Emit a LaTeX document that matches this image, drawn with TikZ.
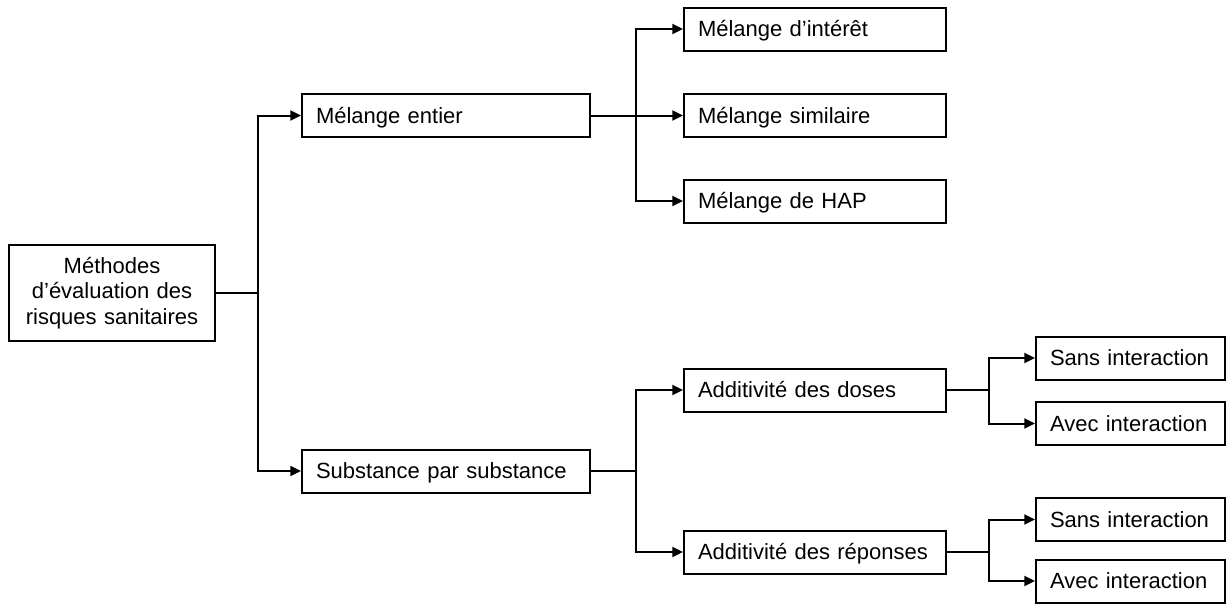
\documentclass[tikz,border=0pt]{standalone}
\usepackage{fontspec}
\setmainfont{Liberation Sans}
\usetikzlibrary{arrows.meta}
\begin{document}
\begin{tikzpicture}[x=0.75pt,y=-0.75pt,
  every node/.style={font=\fontsize{16.5pt}{19pt}\selectfont},
  box/.style={draw,line width=1.5pt,rectangle,inner xsep=10.5pt,inner ysep=0pt,
    minimum height=32.25pt,align=left,text width=#1,text height=12.5pt,text depth=0.7pt},
  rootbox/.style={draw,line width=1.5pt,rectangle,inner xsep=3pt,inner ysep=0pt,
    minimum height=72pt,align=center,text width=148.5pt},
  link/.style={line width=1.5pt},
  arr/.style={line width=1.5pt,-{Triangle[length=8pt,width=7.5pt]}}]
\useasboundingbox (0,0) rectangle (1227,603);
% nodes
\node[rootbox] (root) at (112,293) {Méthodes\\d’évaluation des\\risques sanitaires};
\node[box=195pt] (me) at (446,115.5) {Mélange entier};
\node[box=195pt] (ss) at (446,471) {Substance par substance};
\node[box=175.5pt] (mi) at (815,29) {Mélange d’intérêt};
\node[box=175.5pt] (ms) at (815,115.5) {Mélange similaire};
\node[box=175.5pt] (mh) at (815,201) {Mélange de HAP};
\node[box=175.5pt] (ad) at (815,390) {Additivité des doses};
\node[box=175.5pt] (ar) at (815,552) {Additivité des réponses};
\node[box=120.75pt] (s1) at (1130.5,358) {Sans interaction};
\node[box=120.75pt] (a1) at (1130.5,423.5) {Avec interaction};
\node[box=120.75pt] (s2) at (1130.5,519.5) {Sans interaction};
\node[box=120.75pt] (a2) at (1130.5,581) {Avec interaction};
% junctions
\coordinate (b1) at (258,293);
\coordinate (b2) at (636,115.5);
\coordinate (b3) at (636,471);
\coordinate (b4) at (989,390);
\coordinate (b5) at (989,552);
% connectors
\draw[link] (root) -- (b1);
\draw[arr] (b1) |- (me);
\draw[arr] (b1) |- (ss);
\draw[link] (me) -- (b2);
\draw[arr] (b2) |- (mi);
\draw[arr] (b2) |- (ms);
\draw[arr] (b2) |- (mh);
\draw[link] (ss) -- (b3);
\draw[arr] (b3) |- (ad);
\draw[arr] (b3) |- (ar);
\draw[link] (ad) -- (b4);
\draw[arr] (b4) |- (s1);
\draw[arr] (b4) |- (a1);
\draw[link] (ar) -- (b5);
\draw[arr] (b5) |- (s2);
\draw[arr] (b5) |- (a2);
\end{tikzpicture}
\end{document}
